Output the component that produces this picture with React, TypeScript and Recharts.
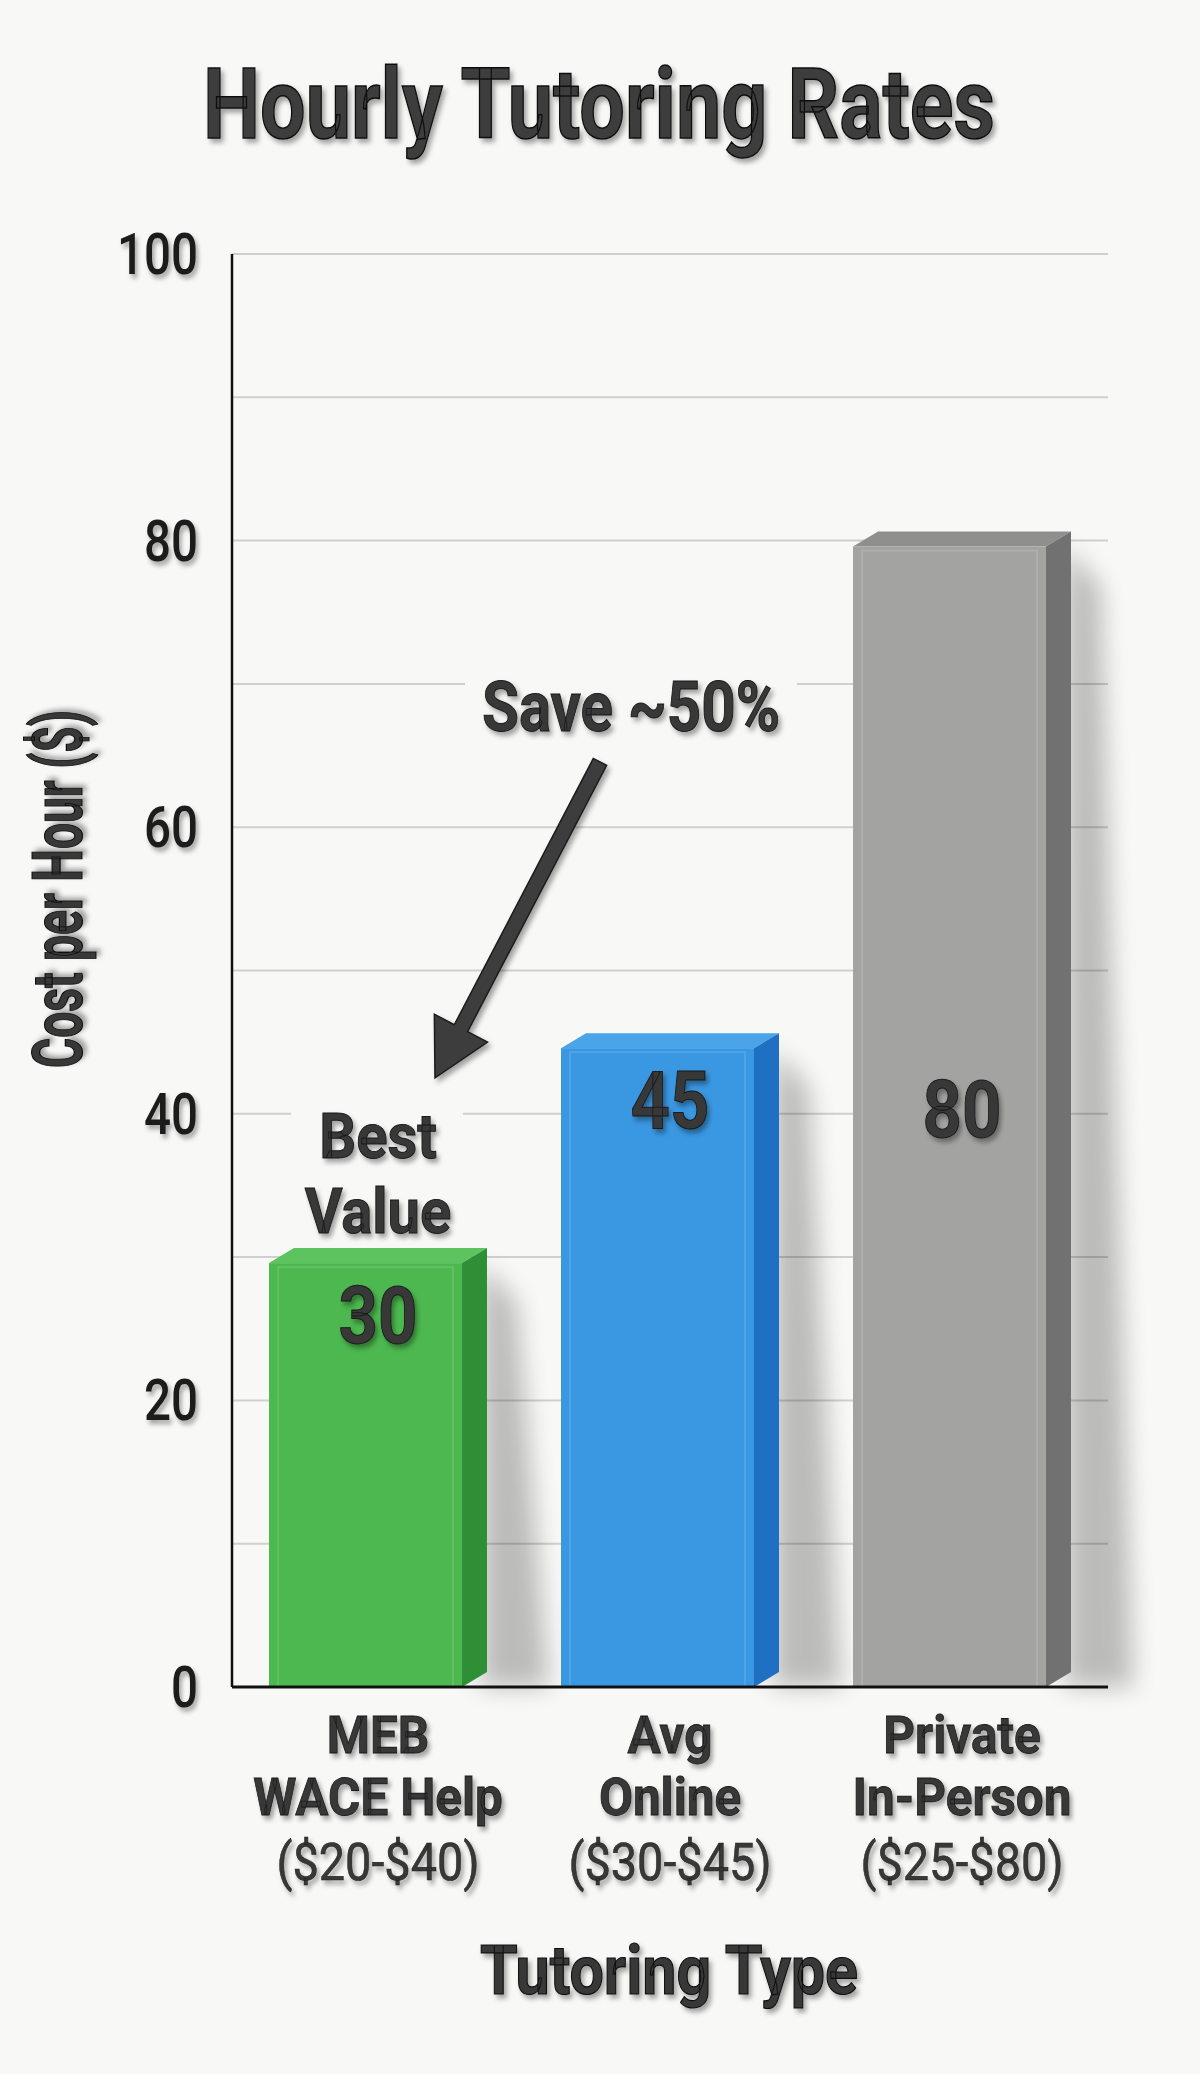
import React from "react";
import { BarChart, Bar, XAxis, YAxis, CartesianGrid, LabelList, ReferenceDot } from "recharts";

// chart data
const CATEGORIES = [
  ["MEB", "WACE Help"],
  ["Avg", "Online"],
  ["Private", "In-Person"],
];
const PRICE_RANGES = ["($20-$40)", "($30-$45)", "($25-$80)"];
const HOURLY_RATES = [30, 45, 80];
const Y_TICKS = [0, 10, 20, 30, 40, 50, 60, 70, 80, 90, 100];
const LABELLED_TICKS = [0, 20, 40, 60, 80, 100];
const BEST_VALUE_LINES = ["Best", "Value"];
const SAVING_NOTE = "Save ~50%";

// look
const FONT = "Roboto, 'Liberation Sans', Arial, sans-serif";
const INK = "#383838";
const PAPER = "#f8f8f6";
const BAR_FACES = [
  { front: "#4cb84f", top: "#5cc35e", side: "#2f8f36" },
  { front: "#3a97e1", top: "#4ba3ea", side: "#1f6fc3" },
  { front: "#a3a4a2", top: "#8f908e", side: "#707170" },
];
const DEPTH_X = 25;
const DEPTH_Y = 15;
const TOP_SHIFT = 6;
const SAVING_NOTE_AT = 67;

const data = CATEGORIES.map((lines, i) => ({
  name: lines.join(" "),
  rate: HOURLY_RATES[i],
}));

function Squeezed({ x, y, sx, anchor = "middle", children, ...rest }: any) {
  return (
    <g transform={`translate(${x},${y}) scale(${sx},1)`}>
      <text x={0} y={0} textAnchor={anchor} fontFamily={FONT} {...rest}>
        {children}
      </text>
    </g>
  );
}

function Bar3D(props: any) {
  const { x, y, width, height, index } = props;
  const c = BAR_FACES[index % BAR_FACES.length];
  const fw = width - DEPTH_X;
  const top = y + TOP_SHIFT;
  const bottom = y + height;
  const right = x + width;
  return (
    <g>
      <polygon
        points={`${right - 6},${top} ${right + 30},${top + 40} ${right + 62},${bottom} ${right - 6},${bottom}`}
        fill="#000"
        opacity={0.24}
        filter="url(#barShadow)"
      />
      <rect x={x} y={top} width={fw} height={bottom - top} fill={c.front} />
      <rect
        x={x + 9}
        y={top + 4}
        width={fw - 18}
        height={bottom - top - 4}
        fill="none"
        stroke="#ffffff"
        strokeOpacity={0.12}
        strokeWidth={2}
      />
      <polygon
        points={`${x},${top} ${x + DEPTH_X},${top - DEPTH_Y} ${right},${top - DEPTH_Y} ${x + fw},${top}`}
        fill={c.top}
      />
      <polygon
        points={`${x + fw},${top} ${right},${top - DEPTH_Y} ${right},${bottom - DEPTH_Y} ${x + fw},${bottom}`}
        fill={c.side}
      />
    </g>
  );
}

function ValueLabel(props: any) {
  const { x, y, width, height, value } = props;
  const cx = Number(x) + Number(width) / 2;
  const tall = value / Y_TICKS[Y_TICKS.length - 1] > 0.6;
  const cy = tall ? Number(y) + Number(height) / 2 - 5 : Number(y) + 58;
  return (
    <Squeezed
      x={cx}
      y={cy + 28}
      sx={0.87}
      fontSize={79}
      fontWeight={700}
      fill={INK}
      stroke="#1a1a1a"
      strokeWidth={1}
      filter="url(#emboss)"
    >
      {value}
    </Squeezed>
  );
}

function CategoryTick(props: any) {
  const { x, y, payload } = props;
  const i = payload.index ?? data.findIndex((d) => d.name === payload.value);
  const lines = CATEGORIES[i] || [String(payload.value)];
  const common = { fill: INK, stroke: "#1a1a1a", strokeWidth: 0.8, filter: "url(#emboss)" };
  return (
    <g>
      {lines.map((line, k) => (
        <Squeezed key={k} x={x} y={y + 66 + k * 62} sx={0.95} fontSize={52} fontWeight={700} {...common}>
          {line}
        </Squeezed>
      ))}
      <Squeezed x={x} y={y + 193} sx={0.9} fontSize={52} fontWeight={400} {...common} strokeWidth={0.5}>
        {PRICE_RANGES[i]}
      </Squeezed>
    </g>
  );
}

function RateTick(props: any) {
  const { x, y, payload } = props;
  if (!LABELLED_TICKS.includes(payload.value)) return <g />;
  return (
    <Squeezed
      x={x - 34}
      y={y + 20}
      sx={0.82}
      anchor="end"
      fontSize={58}
      fontWeight={500}
      fill="#1c1c1c"
      filter="url(#emboss)"
    >
      {payload.value}
    </Squeezed>
  );
}

function BestValueNote(props: any) {
  const { cx, cy } = props;
  return (
    <g>
      <rect x={cx - 87} y={cy - 160} width={172} height={142} fill={PAPER} />
      {BEST_VALUE_LINES.map((line, k) => (
        <Squeezed
          key={k}
          x={cx}
          y={cy - 99 + k * 75}
          sx={0.92}
          fontSize={63}
          fontWeight={700}
          fill={INK}
          stroke="#1a1a1a"
          strokeWidth={1}
          filter="url(#emboss)"
        >
          {line}
        </Squeezed>
      ))}
    </g>
  );
}

function SavingNote(props: any) {
  const { cx, cy } = props;
  // arrow from below the note down towards the cheapest bar
  const tail = { x: cx - 70, y: cy + 35 };
  const tip = { x: cx - 235, y: cy + 351 };
  const dx = tip.x - tail.x;
  const dy = tip.y - tail.y;
  const len = Math.hypot(dx, dy);
  const ux = dx / len;
  const uy = dy / len;
  const nx = -uy;
  const ny = ux;
  const headLen = 56;
  const headHalf = 30;
  const shaftHalf = 7.5;
  const bx = tip.x - ux * headLen;
  const by = tip.y - uy * headLen;
  const pts = [
    [tail.x + nx * shaftHalf, tail.y + ny * shaftHalf],
    [bx + nx * shaftHalf, by + ny * shaftHalf],
    [bx + nx * headHalf, by + ny * headHalf],
    [tip.x, tip.y],
    [bx - nx * headHalf, by - ny * headHalf],
    [bx - nx * shaftHalf, by - ny * shaftHalf],
    [tail.x - nx * shaftHalf, tail.y - ny * shaftHalf],
  ]
    .map((p) => p.join(","))
    .join(" ");
  return (
    <g>
      <rect x={cx - 205} y={cy - 52} width={332} height={68} fill={PAPER} />
      <text
        x={cx - 39}
        y={cy + 4}
        textAnchor="middle"
        fontFamily={FONT}
        fontSize={70}
        fontWeight={700}
        textLength={298}
        lengthAdjust="spacingAndGlyphs"
        fill={INK}
        stroke="#1a1a1a"
        strokeWidth={1}
        filter="url(#emboss)"
      >
        {SAVING_NOTE}
      </text>
      <polygon points={pts} fill="#3d3d3d" stroke="#1c1c1c" strokeWidth={1.5} filter="url(#emboss)" />
    </g>
  );
}

export default function App() {
  return (
    <div style={{ position: "absolute", left: 0, top: 0, width: 1200, height: 2074, background: PAPER }}>
      <BarChart
        width={1200}
        height={2074}
        data={data}
        margin={{ top: 254, right: 92, bottom: 187, left: 152 }}
      >
        <defs>
          <filter id="emboss" x="-20%" y="-30%" width="150%" height="170%">
            <feDropShadow dx="3" dy="4" stdDeviation="2.5" floodColor="#000" floodOpacity="0.35" />
          </filter>
          <filter id="barShadow" x="-100%" y="-20%" width="300%" height="140%">
            <feGaussianBlur stdDeviation="12" />
          </filter>
        </defs>
        <text
          x={599}
          y={138}
          textAnchor="middle"
          fontFamily={FONT}
          fontSize={98}
          fontWeight={700}
          textLength={792}
          lengthAdjust="spacingAndGlyphs"
          fill="#3c3c3c"
          stroke="#111"
          strokeWidth={1.5}
          filter="url(#emboss)"
        >
          Hourly Tutoring Rates
        </text>
        <text
          transform="translate(82,889) rotate(-90)"
          textAnchor="middle"
          fontFamily={FONT}
          fontSize={70}
          fontWeight={700}
          textLength={358}
          lengthAdjust="spacingAndGlyphs"
          fill={INK}
          stroke="#111"
          strokeWidth={1.2}
          filter="url(#emboss)"
        >
          Cost per Hour ($)
        </text>
        <text
          x={669}
          y={1994}
          textAnchor="middle"
          fontFamily={FONT}
          fontSize={69}
          fontWeight={700}
          textLength={378}
          lengthAdjust="spacingAndGlyphs"
          fill={INK}
          stroke="#111"
          strokeWidth={1.2}
          filter="url(#emboss)"
        >
          Tutoring Type
        </text>
        <CartesianGrid vertical={false} stroke="#cfcfcd" strokeWidth={2} />
        <XAxis
          dataKey="name"
          height={200}
          interval={0}
          tickSize={0}
          tickMargin={0}
          tickLine={false}
          axisLine={{ stroke: "#111", strokeWidth: 3 }}
          tick={<CategoryTick />}
        />
        <YAxis
          width={80}
          domain={[0, 100]}
          ticks={Y_TICKS}
          interval={0}
          tickSize={0}
          tickMargin={0}
          tickLine={false}
          axisLine={{ stroke: "#111", strokeWidth: 2.5 }}
          tick={<RateTick />}
        />
        <Bar dataKey="rate" barSize={218} shape={(p: any) => <Bar3D {...p} />} isAnimationActive={false}>
          <LabelList dataKey="rate" content={<ValueLabel />} />
        </Bar>
        <ReferenceDot x={data[0].name} y={HOURLY_RATES[0]} r={0} shape={(p: any) => <BestValueNote {...p} />} />
        <ReferenceDot x={data[1].name} y={SAVING_NOTE_AT} r={0} shape={(p: any) => <SavingNote {...p} />} />
      </BarChart>
    </div>
  );
}
